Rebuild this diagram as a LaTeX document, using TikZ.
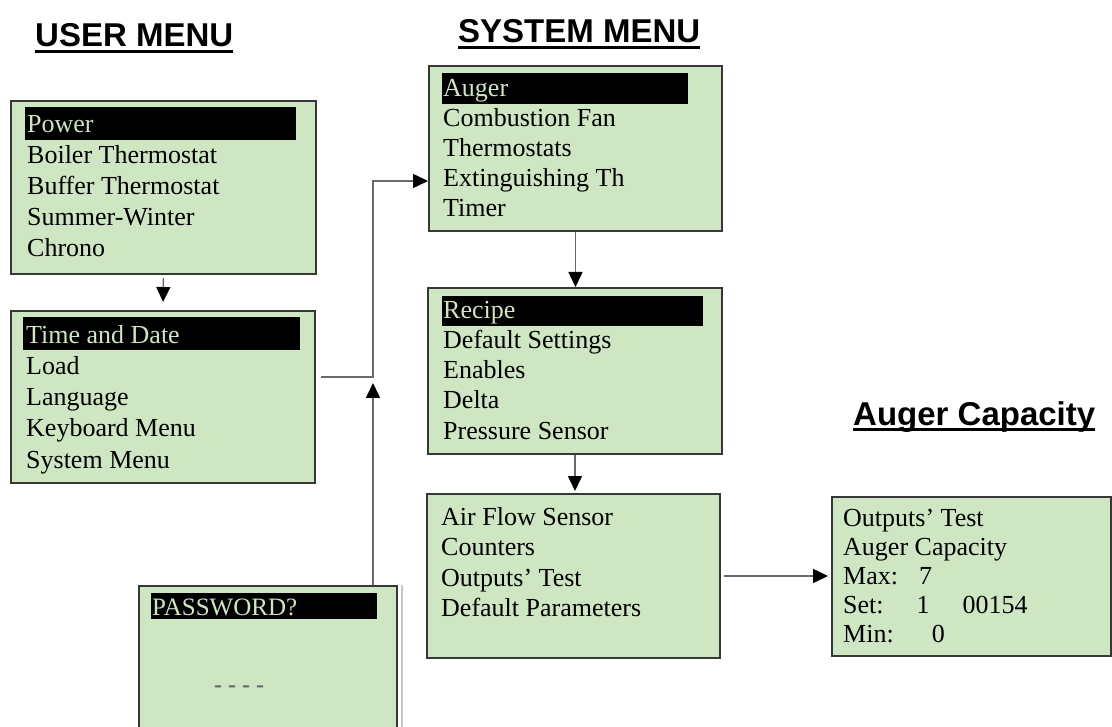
\documentclass[tikz,border=0pt]{standalone}
\usepackage{fontspec}
\setmainfont{Liberation Serif}
\newfontfamily\titlefont{Liberation Sans}
\usetikzlibrary{arrows.meta}
\definecolor{lcdgreen}{RGB}{206,230,193}
\definecolor{framegray}{RGB}{55,55,55}
\definecolor{wiregray}{RGB}{105,105,105}

\begin{document}
\begin{tikzpicture}[x=1pt, y=-1pt,
        screen/.style={draw=framegray, fill=lcdgreen, line width=2pt, anchor=north west, inner sep=0pt},
        item/.style={anchor=base west, inner sep=0pt, font=\fontsize{26}{31}\selectfont},
        hitem/.style={item, text=lcdgreen},
        title/.style={anchor=base west, inner sep=0pt, font=\titlefont\bfseries\fontsize{33}{40}\selectfont},
        wire/.style={wiregray, line width=1.5pt},
        arr/.style={wire, -{Triangle[length=15pt, width=14pt, color=black]}}]
        \useasboundingbox (0,0) rectangle (1112,727);

        % titles
        \node[title] (usr) at (35,47) {USER MENU};
        \node[title] (sys) at (458,43) {SYSTEM MENU};
        \node[title] (cap) at (853,425) {Auger Capacity};
        \foreach \t in {usr, sys, cap}
        \draw[line width=3pt] ([yshift=-5pt]\t.base west) -- ([yshift=-5pt]\t.base east);

        % screens
        \node[screen, minimum width=305pt, minimum height=173pt] (um1) at (10,100) {};
        \node[screen, minimum width=304pt, minimum height=172pt] (um2) at (10,310) {};
        \node[screen, minimum width=258pt, minimum height=160pt] (pw) at (138,585) {};
        \node[screen, minimum width=293pt, minimum height=165pt] (sm1) at (428,65) {};
        \node[screen, minimum width=294pt, minimum height=166pt] (sm2) at (427,287) {};
        \node[screen, minimum width=293pt, minimum height=164pt] (sm3) at (426,493) {};
        \node[screen, minimum width=279pt, minimum height=159pt] (ac) at (831,496) {};
        \draw[gray!45, line width=1.5pt] ([xshift=4pt]pw.north east) -- ([xshift=4pt]pw.south east);

        % selection bars
        \fill[black] (25,107) rectangle (296,140);
        \fill[black] (23,317) rectangle (300,350);
        \fill[black] (151,593) rectangle (377,619);
        \fill[black] (442,73) rectangle (688,104);
        \fill[black] (442,296) rectangle (703,326);

        % user menu
        \node[hitem] (um1-0) at (27,133) {Power};
        \foreach \t [count=\i] in {Boiler Thermostat, Buffer Thermostat, Summer-Winter, Chrono}
        \node[item] (um1-\i) at (27,133+31*\i) {\t};
        \node[hitem] (um2-0) at (26,344) {Time and Date};
        \foreach \t [count=\i] in {Load, Language, Keyboard Menu, System Menu}
        \node[item] (um2-\i) at (26,344+31*\i) {\t};
        \node[hitem, font=\fontsize{25}{30}\selectfont] (pw-0) at (152,615) {PASSWORD?};
        \node[item, text=gray!80!black, font=\bfseries\fontsize{24}{30}\selectfont] (pw-1) at (214,692) {- - - -};

        % system menu
        \node[hitem] (sm1-0) at (443,97) {Auger};
        \foreach \t [count=\i] in {Combustion Fan, Thermostats, Extinguishing Th, Timer}
        \node[item] (sm1-\i) at (443,97+30*\i) {\t};
        \node[hitem] (sm2-0) at (443,319) {Recipe};
        \foreach \t [count=\i] in {Default Settings, Enables, Delta, Pressure Sensor}
        \node[item] (sm2-\i) at (443,319+30*\i) {\t};
        \foreach \t [count=\i from 0] in {Air Flow Sensor, Counters, Outputs’ Test, Default Parameters}
        \node[item] (sm3-\i) at (441,525+30.5*\i) {\t};

        % auger capacity
        \foreach \t [count=\i from 0] in {Outputs’ Test, Auger Capacity, {Max:\hspace{21pt}7},
                {Set:\hspace{33pt}1\hspace{33pt}00154}, {Min:\hspace{38pt}0}}
        \node[item] (ac-\i) at (843,526+29*\i) {\t};

        % links
        \coordinate (jn) at (373,377);
        \coordinate (jt) at (373,181);
        \draw[arr, shorten <=3pt, shorten >=8pt] (um1.south) -- (um2.north);
        \draw[arr, shorten <=5pt] (um2.east |- jn) -- (jn) -- (jt) -- (jt -| sm1.west);
        \draw[arr] (pw.north -| jn) -- ([yshift=-6pt]jn);
        \draw[arr] (sm1.south) -- (sm1.south |- sm2.north);
        \draw[arr, shorten >=2pt] (sm2.south) -- (sm2.south |- sm3.north);
        \draw[arr, shorten <=3pt, shorten >=3pt] (sm3.east) -- (sm3.east -| ac.west);
\end{tikzpicture}
\end{document}
